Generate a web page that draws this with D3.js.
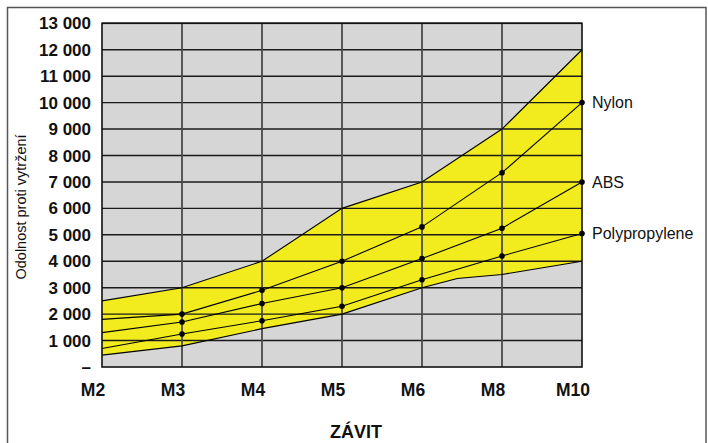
<!DOCTYPE html>
<html><head><meta charset="utf-8">
<script src="https://cdn.jsdelivr.net/npm/d3@7"></script>
<style>body{margin:0;background:#fff}svg{display:block;font-family:"Liberation Sans",Arial,Helvetica,sans-serif}</style>
</head><body><svg id="c" width="708" height="443"></svg>
<script>
const categories = ["M2","M3","M4","M5","M6","M8","M10"];
const yTicks = [0,1000,2000,3000,4000,5000,6000,7000,8000,9000,10000,11000,12000,13000];
const nylon = [1800, 2000, 2900, 4000, 5300, 7350, 10000];
const abs = [1300, 1700, 2400, 3000, 4100, 5250, 7000];
const polypropylene = [700, 1250, 1750, 2300, 3300, 4200, 5050];
const bandUpperPos = [0, 1, 2, 3, 4, 5, 6];
const bandUpper = [2500, 3000, 4000, 6000, 7000, 9000, 12000];
const bandLowerPos = [0, 1, 2, 3, 4, 4.44, 5, 6];
const bandLower = [450, 800, 1450, 2000, 3000, 3350, 3500, 4000];
const seriesNames = ["Nylon", "ABS", "Polypropylene"];

const svg = d3.select("#c");
const L = 102, R = 582, T = 23.3, B = 367;
const x = d3.scaleLinear().domain([0, categories.length - 1]).range([L, R]);
const y = d3.scaleLinear().domain([0, 13000]).range([B, T]);
const fmt = v => v === 0 ? "–" : d3.format(",")(v).replace(/,/g, " ");

// outer border
svg.append("rect").attr("x", 7.5).attr("y", 7.5).attr("width", 698.5).attr("height", 445)
  .attr("fill", "none").attr("stroke", "#555").attr("stroke-width", 1.5);

// plot background
svg.append("rect").attr("x", L).attr("y", T).attr("width", R - L).attr("height", B - T).attr("fill", "#d6d6d6");

// band
const upperPts = bandUpperPos.map((p, i) => [x(p), y(bandUpper[i])]);
const lowerPts = bandLowerPos.map((p, i) => [x(p), y(bandLower[i])]);
const bandPoly = upperPts.concat(lowerPts.slice().reverse());
svg.append("path").attr("d", "M" + bandPoly.join("L") + "Z").attr("fill", "#f2ec1e");

// grid
const g = svg.append("g");
g.selectAll("line.h").data(yTicks.filter(v => v > 0)).join("line")
  .attr("x1", L).attr("x2", R).attr("y1", d => y(d)).attr("y2", d => y(d))
  .attr("stroke", "#1a1a1a").attr("stroke-width", 1.4);
g.selectAll("line.v").data(d3.range(1, categories.length - 1)).join("line")
  .attr("x1", d => x(d)).attr("x2", d => x(d)).attr("y1", T).attr("y2", B)
  .attr("stroke", "#4a4a4a").attr("stroke-width", 1.8);

// band outlines
const line = d3.line();
svg.append("path").attr("d", line(upperPts)).attr("fill", "none").attr("stroke", "#000").attr("stroke-width", 1.1);
svg.append("path").attr("d", line(lowerPts)).attr("fill", "none").attr("stroke", "#000").attr("stroke-width", 1.1);

// frame
svg.append("rect").attr("x", L).attr("y", T).attr("width", R - L).attr("height", B - T)
  .attr("fill", "none").attr("stroke", "#111").attr("stroke-width", 1.6);

// series
const allSeries = [nylon, abs, polypropylene];
allSeries.forEach((s, si) => {
  const pts = s.map((v, i) => [x(i), y(v)]);
  svg.append("path").attr("d", line(pts)).attr("fill", "none").attr("stroke", "#000").attr("stroke-width", 1.1);
  svg.selectAll(null).data(pts.slice(1)).join("circle")
    .attr("cx", d => d[0]).attr("cy", d => d[1]).attr("r", 2.8).attr("fill", "#000");
  svg.append("text").attr("x", x(categories.length - 1) + 10).attr("y", y(s[s.length - 1]))
    .attr("dy", "0.36em").attr("font-size", 16).attr("fill", "#111").text(seriesNames[si]);
});

// y tick labels
svg.selectAll("text.yl").data(yTicks).join("text")
  .attr("x", 91).attr("y", d => y(d)).attr("dy", "0.36em").attr("text-anchor", "end")
  .attr("font-size", 17).attr("font-weight", "bold").attr("fill", "#111").text(fmt);

// x labels
svg.selectAll("text.xl").data(categories).join("text")
  .attr("x", (d, i) => x(i) - 9).attr("y", 396).attr("text-anchor", "middle")
  .attr("font-size", 17.5).attr("font-weight", "bold").attr("fill", "#111").text(d => d);

// axis titles
svg.append("text").attr("x", 356).attr("y", 438).attr("text-anchor", "middle")
  .attr("font-size", 18).attr("font-weight", "bold").attr("fill", "#111").text("ZÁVIT");
svg.append("text").attr("transform", "translate(26,207) rotate(-90)").attr("text-anchor", "middle")
  .attr("font-size", 14.5).attr("fill", "#111").text("Odolnost proti vytržení");
</script></body></html>
